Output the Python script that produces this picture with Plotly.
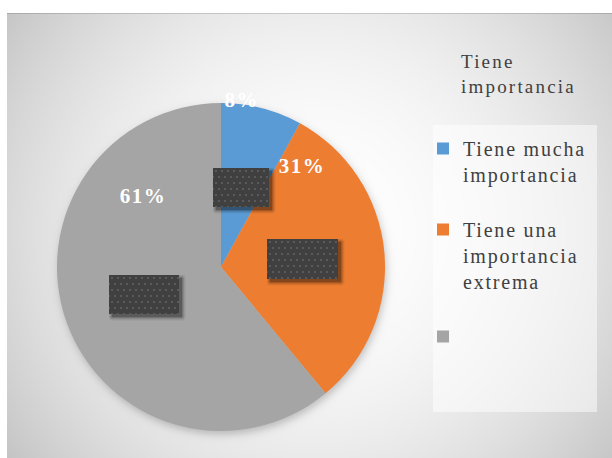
import base64
import math
import struct
import zlib

import numpy as np
import plotly.graph_objects as go

# ---- chart data ----
categories = ["Tiene mucha<br>importancia", "Tiene una<br>importancia<br>extrema", " "]
values = [8, 31, 61]
colors = ["#5B9BD5", "#ED7D31", "#A5A5A5"]
legend_title = "Tiene<br>importancia"

# ---- page / layout geometry (pixels) ----
W, H = 612, 458
PIE_CX, PIE_CY, PIE_R = 221, 267, 164
AREA_X0, AREA_Y0 = 7, 13
LEGEND_BOX = (433, 125, 597, 412)
# where each percentage label sits: (angle clockwise from 12 o'clock, radius fraction)
label_polar = [(7.2, 1.026), (38.7, 0.79), (312.3, 0.644)]
# size of the dark label boxes sitting in each slice
box_sizes = [(56, 39), (71, 40), (70, 39)]
BOX_RADIUS = 0.5
LEGEND_FONT = 20


def px(x):
    return x / W


def py(y):
    return 1 - y / H


def png_uri(arr):
    """Encode a uint8 HxWx3 / HxWx4 array as a PNG data URI."""
    arr = np.ascontiguousarray(arr.astype(np.uint8))
    h, w = arr.shape[:2]
    ctype = 6 if arr.shape[2] == 4 else 2
    raw = b"".join(b"\x00" + arr[r].tobytes() for r in range(h))

    def chunk(tag, data):
        return (struct.pack(">I", len(data)) + tag + data
                + struct.pack(">I", zlib.crc32(tag + data) & 0xFFFFFFFF))

    png = (b"\x89PNG\r\n\x1a\n"
           + chunk(b"IHDR", struct.pack(">IIBBBBB", w, h, 8, ctype, 0, 0, 0))
           + chunk(b"IDAT", zlib.compress(raw, 9))
           + chunk(b"IEND", b""))
    return "data:image/png;base64," + base64.b64encode(png).decode()


# ---- soft radial backdrop with the pie's drop shadow ----
yy, xx = np.mgrid[0:H, 0:W].astype(float)
bg = 255 - 3.98e-4 * (xx - 315) ** 2 - 4.0e-4 * (yy - 230) ** 2
r = np.hypot(xx - (PIE_CX + 1), yy - (PIE_CY + 3))
shadow = 0.22 * 0.5 * (1 - np.tanh((r - PIE_R) / 5.0))
bg = bg * (1 - shadow)
bg[AREA_Y0, AREA_X0:] *= 0.85
bg[:AREA_Y0, :] = 255
bg[:, :AREA_X0] = 255
bg_rgb = np.repeat(np.clip(bg, 0, 255)[..., None], 3, axis=2)


def box_png(w, h, pad=8, off=3):
    ih, iw = h + pad, w + pad
    by, bx = np.mgrid[0:ih, 0:iw]
    dx = np.maximum(np.maximum(off - bx, bx - (w - 1 + off)), 0)
    dy = np.maximum(np.maximum(off - by, by - (h - 1 + off)), 0)
    d = np.hypot(dx, dy)
    img = np.zeros((ih, iw, 4))
    img[..., 3] = 255 * 0.45 * np.clip(1 - d / 5.5, 0, 1) ** 2
    inside = (bx < w) & (by < h)
    row = (by - 2) // 6
    dot = (((by - 2) % 6) < 2) & ((((bx - 2) + 3 * (row % 2)) % 6) < 2)
    shade = np.where(dot, 0x5A, 0x40)
    for c in range(3):
        img[..., c][inside] = shade[inside]
    img[..., 3][inside] = 255
    return img, iw, ih


total = sum(values)
fractions = [v / total for v in values]

images = [dict(source=png_uri(bg_rgb), xref="paper", yref="paper",
               x=0, y=1, sizex=1, sizey=1, xanchor="left", yanchor="top",
               sizing="stretch", layer="below")]

# dark boxes placed at the middle of each slice
start = 0.0
for frac, (bw, bh) in zip(fractions, box_sizes):
    mid = (start + frac / 2) * 2 * math.pi
    start += frac
    cx = PIE_CX + BOX_RADIUS * PIE_R * math.sin(mid)
    cy = PIE_CY - BOX_RADIUS * PIE_R * math.cos(mid)
    img, iw, ih = box_png(bw, bh)
    left, top = round(cx - bw / 2), round(cy - bh / 2)
    images.append(dict(source=png_uri(img), xref="paper", yref="paper",
                       x=px(left), y=py(top), sizex=iw / W, sizey=ih / H,
                       xanchor="left", yanchor="top", sizing="stretch",
                       layer="above"))

# percentage labels
annotations = []
for frac, (ang, rf) in zip(fractions, label_polar):
    a = math.radians(ang)
    lx = PIE_CX + rf * PIE_R * math.sin(a)
    ly = PIE_CY - rf * PIE_R * math.cos(a)
    annotations.append(dict(
        text=f"{round(frac * 100)}%", x=px(lx), y=py(ly),
        xref="paper", yref="paper", showarrow=False,
        xanchor="center", yanchor="middle",
        font=dict(family="Liberation Serif", size=21, color="white",
                  weight="bold")))

# legend heading
annotations.append(dict(
    text=legend_title, x=px(459), y=py(74), xref="paper", yref="paper",
    showarrow=False, xanchor="left", yanchor="middle", align="left",
    font=dict(family="Liberation Serif", size=LEGEND_FONT - 1, color="#404040")))

# a trailing blank line opens up the gap under each multi-line entry
legend_labels = [c + "<br>\u00a0" if c.strip() else c for c in categories]

fig = go.Figure(go.Pie(
    labels=legend_labels,
    values=values,
    marker=dict(colors=colors, line=dict(width=0)),
    sort=False,
    direction="clockwise",
    rotation=0,
    textinfo="none",
    hoverinfo="percent",
    domain=dict(x=[px(PIE_CX - PIE_R), px(PIE_CX + PIE_R)],
                y=[py(PIE_CY + PIE_R), py(PIE_CY - PIE_R)]),
))

x0, y0, x1, y1 = LEGEND_BOX
fig.update_layout(
    width=W, height=H, autosize=False,
    margin=dict(l=0, r=0, t=0, b=0),
    paper_bgcolor="white",
    images=images,
    annotations=annotations,
    shapes=[dict(type="rect", xref="paper", yref="paper",
                 x0=px(x0), x1=px(x1), y0=py(y1), y1=py(y0),
                 fillcolor="rgba(255,255,255,0.5)", line=dict(width=0),
                 layer="below")],
    showlegend=True,
    legend=dict(x=px(423), xanchor="left", y=py(129), yanchor="top",
                bgcolor="rgba(0,0,0,0)", valign="top", traceorder="normal",
                font=dict(family="Liberation Serif", size=LEGEND_FONT,
                          color="#404040")),
)

post = """
var gd = document.getElementById('{plot_id}');
gd.querySelectorAll('.legend [clip-path]').forEach(function(e){ e.removeAttribute('clip-path'); });
gd.querySelectorAll('.legendtext').forEach(function(t){ t.style.letterSpacing = '1.8px'; });
gd.querySelectorAll('.annotation-text').forEach(function(t){
  t.style.letterSpacing = t.textContent.indexOf('%') >= 0 ? '1.5px' : '2.2px';
});
"""
fig.write_html("out.html", post_script=post)
